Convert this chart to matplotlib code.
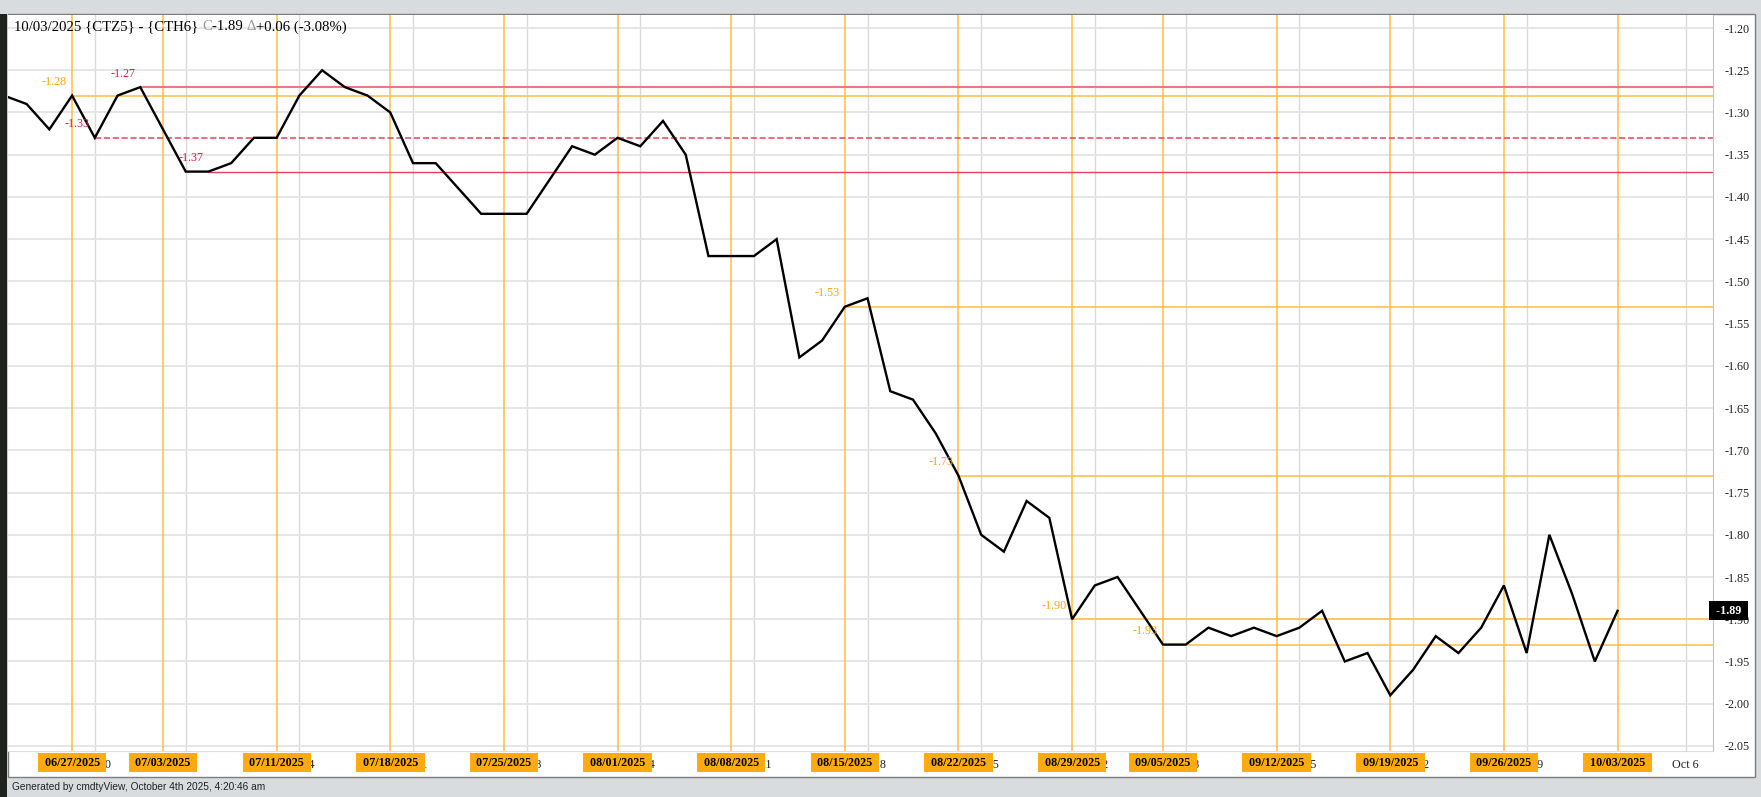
import matplotlib
matplotlib.use('Agg')
import numpy as np
import matplotlib.pyplot as plt
from matplotlib.patches import Rectangle

# trading days shown (2025), spread CTZ5 - CTH6 settlement
dates = ['06/24', '06/25', '06/26', '06/27', '06/30',
         '07/01', '07/02', '07/03', '07/07', '07/08', '07/09', '07/10', '07/11',
         '07/14', '07/15', '07/16', '07/17', '07/18', '07/21', '07/22', '07/23',
         '07/24', '07/25', '07/28', '07/29', '07/30', '07/31',
         '08/01', '08/04', '08/05', '08/06', '08/07', '08/08', '08/11', '08/12',
         '08/13', '08/14', '08/15', '08/18', '08/19', '08/20', '08/21', '08/22',
         '08/25', '08/26', '08/27', '08/28', '08/29',
         '09/02', '09/03', '09/04', '09/05', '09/08', '09/09', '09/10', '09/11',
         '09/12', '09/15', '09/16', '09/17', '09/18', '09/19', '09/22', '09/23',
         '09/24', '09/25', '09/26', '09/29', '09/30',
         '10/01', '10/02', '10/03']
spread = [-1.28, -1.29, -1.32, -1.28, -1.33,
          -1.28, -1.27, -1.32, -1.37, -1.37, -1.36, -1.33, -1.33,
          -1.28, -1.25, -1.27, -1.28, -1.30, -1.36, -1.36, -1.39,
          -1.42, -1.42, -1.42, -1.38, -1.34, -1.35,
          -1.33, -1.34, -1.31, -1.35, -1.47, -1.47, -1.47, -1.45,
          -1.59, -1.57, -1.53, -1.52, -1.63, -1.64, -1.68, -1.73,
          -1.80, -1.82, -1.76, -1.78, -1.90,
          -1.86, -1.85, -1.89, -1.93, -1.93, -1.91, -1.92, -1.91,
          -1.92, -1.91, -1.89, -1.95, -1.94, -1.99, -1.96, -1.92,
          -1.94, -1.91, -1.86, -1.94, -1.80,
          -1.87, -1.95, -1.89]

week_ends = ['06/27', '07/03', '07/11', '07/18', '07/25', '08/01', '08/08', '08/15',
             '08/22', '08/29', '09/05', '09/12', '09/19', '09/26', '10/03']
week_starts = ['06/30', '07/07', '07/14', '07/21', '07/28', '08/04', '08/11', '08/18',
               '08/25', '09/02', '09/08', '09/15', '09/22', '09/29']
week_start_labels = ['Jun 30', 'Jul 7', 'Jul 14', 'Jul 21', 'Jul 28', 'Aug 4', 'Aug 11',
                     'Aug 18', 'Aug 25', 'Sep 2', 'Sep 8', 'Sep 15', 'Sep 22', 'Sep 29']
next_label = 'Oct 6'

# marked levels: start date, value, kind
level_dates = ['07/02', '06/27', '06/30', '07/08', '08/15', '08/22', '08/29', '09/05']
level_vals = [-1.27, -1.28, -1.33, -1.37, -1.53, -1.73, -1.90, -1.93]
level_kind = ['hi', 'wk', 'mid', 'lo', 'wk', 'wk', 'wk', 'wk']

last_val = -1.89
title_parts = [('10/03/2025 {CTZ5} - {CTH6} ', 'black'), ('C', '#9a9a9a'),
               ('-1.89 ', 'black'), ('\u0394', '#9a9a9a'), ('+0.06 (-3.08%)', 'black')]
footer = 'Generated by cmdtyView, October 4th 2025, 4:20:46 am'

SERIF = ['Liberation Serif', 'DejaVu Serif']
ORANGE = '#ffa500'
RED = '#e8173f'

pos = {d: i for i, d in enumerate(dates)}
x = np.arange(len(dates))

W, H = 1761, 797
fig = plt.figure(figsize=(W / 100, H / 100), dpi=100)
fig.patch.set_facecolor('#d8dcdf')
fig.add_artist(Rectangle((0, 0), 7 / W, (H - 14) / H, transform=fig.transFigure,
                         facecolor='#1f231f', edgecolor='none', zorder=0))
fig.add_artist(Rectangle((8 / W, 20 / H), 1747 / W, 763 / H, transform=fig.transFigure,
                         facecolor='white', edgecolor='#7d7d7d', lw=1, zorder=0))

ax = fig.add_axes([8 / W, 46 / H, 1705 / W, 736 / H])
ax.set_xlim(0.18, 75.2)
ax.set_ylim(-2.056, -1.1846)
ax.set_axisbelow(True)

# grid
yt = np.round(np.arange(-2.05, -1.199, 0.05), 2)
ax.set_yticks(yt, ['%.2f' % v for v in yt])
ax.yaxis.tick_right()
ax.set_xticks([pos[d] for d in week_starts] + [len(dates) - 1 + 3],
              week_start_labels + [next_label])
ax.grid(axis='y', color='#e4e4e4', lw=1.3)
ax.grid(axis='x', color='#dadada', lw=1.0)
ax.tick_params(axis='both', length=0, labelsize=8.7, labelcolor='#222222')
ax.tick_params(axis='y', pad=8.5)
ax.tick_params(axis='x', pad=5.5)
for lab in ax.get_xticklabels() + ax.get_yticklabels():
    lab.set_family(SERIF)

for side in ['left', 'top']:
    ax.spines[side].set_visible(False)
ax.spines['right'].set_color('#c4c4c4')
ax.spines['bottom'].set_color('#dcdcdc')

# weekly markers
for d in week_ends:
    ax.axvline(pos[d], color='#ffb020', lw=1.1, alpha=0.85, zorder=1)
    ax.annotate(' ' + d + '/2025 ', xy=(pos[d], 0), xycoords=('data', 'axes fraction'),
                xytext=(0, -8.3), textcoords='offset points', ha='center', va='center',
                fontsize=8.7, fontweight='bold', family=SERIF, color='black',
                bbox=dict(boxstyle='square,pad=0.3', fc='#ffab0f', ec='none'),
                annotation_clip=False, zorder=6)

# levels
styles = {'hi': dict(color='#f07686', lw=1.5, ls='-'),
          'mid': dict(color='#ee4058', lw=1.1, ls=(0, (4, 1.8))),
          'lo': dict(color='#e8405a', lw=1.0, ls='-'),
          'wk': dict(color='#ffc250', lw=1.2, ls='-')}
for d, v, k in zip(level_dates, level_vals, level_kind):
    ax.hlines(v, pos[d], 80, zorder=2, **styles[k])
    ax.annotate('%.2f' % v, xy=(pos[d], v), xytext=(-3.6, 9.7), textcoords='offset points',
                ha='right', va='center', fontsize=8.7, family=SERIF,
                color=ORANGE if k == 'wk' else RED, zorder=4)

ax.plot(x, spread, color='black', lw=1.7, zorder=3, solid_joinstyle='miter')

# last price tag
ax.annotate(' %.2f ' % last_val, xy=(1.0, last_val), xycoords=('axes fraction', 'data'),
            ha='left', va='center', fontsize=8.7, fontweight='bold', family=SERIF,
            color='white', bbox=dict(boxstyle='square,pad=0.3', fc='black', ec='none'),
            annotation_clip=False, zorder=7)

# title with coloured pieces
t = fig.text(14.5 / W, 1 - 33.5 / H, title_parts[0][0], color=title_parts[0][1],
             fontsize=10.65, family=SERIF, va='bottom', ha='left')
for txt, col in title_parts[1:]:
    t = ax.annotate(txt, xy=(1, 0), xycoords=t, va='bottom', ha='left',
                    fontsize=10.65, family=SERIF, color=col, annotation_clip=False)

fig.text(12 / W, 1 - 787 / H, footer, fontsize=7.3, va='center', ha='left',
         family=['Liberation Sans', 'DejaVu Sans'], color='#222222')

fig.savefig('out.png', dpi=100, facecolor=fig.get_facecolor())
